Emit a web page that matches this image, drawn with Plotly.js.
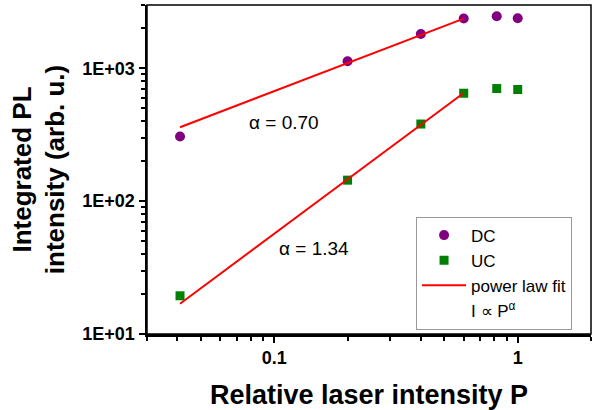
<!DOCTYPE html>
<html>
<head>
<meta charset="utf-8">
<script src="https://cdn.plot.ly/plotly-3.0.1.min.js"></script>
<style>html,body{margin:0;padding:0;background:#fff;}#chart{width:593px;height:410px;}</style>
</head>
<body>
<div id="chart"></div>
<script>
// Relative laser intensity P
var P = [0.041, 0.2, 0.4, 0.6, 0.82, 1.0];
// Integrated PL intensity (arb. u.)
var DC = [307, 1130, 1815, 2371, 2467, 2383];
var UC = [19.4, 144, 381, 650, 705, 693];
// Power-law fit lines (endpoints)
var fitP = [0.041, 0.6];
var dcFit = [360, 2371];
var ucFit = [16.9, 653];
// Tick labels
var xTickVals = [0.1, 1];
var xTickText = ['0.1', '1'];
var yTickVals = [10, 100, 1000];
var yTickText = ['1E+01', '1E+02', '1E+03'];
var xMinor = [0.03,0.04,0.05,0.06,0.07,0.08,0.09,0.2,0.3,0.4,0.5,0.6,0.7,0.8,0.9,2];
var yMinor = [20,30,40,50,60,70,80,90,200,300,400,500,600,700,800,900,2000,3000];
var alphaLabels = ['\u03b1 = 0.70', '\u03b1 = 1.34'];

var FONT = 'Liberation Sans, Arial, sans-serif';

var traces = [
  {x: P, y: DC, name: 'DC', type: 'scatter', mode: 'markers',
   marker: {symbol: 'circle', size: 10, color: '#800080'}},
  {x: P, y: UC, name: 'UC', type: 'scatter', mode: 'markers',
   marker: {symbol: 'square', size: 9, color: '#008000'}},
  {x: fitP, y: dcFit, name: 'power law fit', type: 'scatter', mode: 'lines',
   line: {color: '#ff0000', width: 2}},
  {x: fitP, y: ucFit, name: 'power law fit', type: 'scatter', mode: 'lines',
   line: {color: '#ff0000', width: 2}, showlegend: false},
  {x: [null], y: [null], name: 'I \u221d P<sup>\u03b1</sup>', type: 'scatter', mode: 'lines',
   line: {color: 'rgba(0,0,0,0)', width: 0}}
];

var layout = {
  width: 593, height: 410,
  margin: {l: 147, r: 2, t: 5, b: 76},
  paper_bgcolor: '#fff', plot_bgcolor: '#fff',
  font: {family: FONT, color: '#000'},
  showlegend: true,
  legend: {x: 0.606, y: 0.357, xanchor: 'left', yanchor: 'top',
    bgcolor: '#fff', bordercolor: '#999', borderwidth: 1,
    font: {family: FONT, size: 17, color: '#000'}, itemwidth: 44, tracegroupgap: 0},
  xaxis: {
    type: 'log', range: [Math.log10(0.03), Math.log10(2)],
    tickmode: 'array', tickvals: xTickVals, ticktext: xTickText,
    ticks: 'outside', ticklen: 6, tickwidth: 2, tickcolor: '#000',
    tickfont: {family: FONT, size: 18, color: '#000', weight: 'bold'},
    minor: {tickmode: 'array', tickvals: xMinor, ticks: 'outside', ticklen: 4, tickwidth: 2, tickcolor: '#000', showgrid: false},
    showline: true, linewidth: 2.5, linecolor: '#000',
    showgrid: false, zeroline: false,
    title: {text: 'Relative laser intensity P', font: {family: FONT, size: 27, color: '#000', weight: 'bold'}, standoff: 27},
    automargin: false
  },
  yaxis: {
    type: 'log', range: [1, Math.log10(3000)],
    tickmode: 'array', tickvals: yTickVals, ticktext: yTickText,
    ticks: 'outside', ticklen: 6, tickwidth: 2, tickcolor: '#000',
    tickfont: {family: FONT, size: 18, color: '#000', weight: 'bold'},
    minor: {tickmode: 'array', tickvals: yMinor, ticks: 'outside', ticklen: 4, tickwidth: 2, tickcolor: '#000', showgrid: false},
    showline: true, linewidth: 2.5, linecolor: '#000',
    showgrid: false, zeroline: false,
    title: {text: 'Integrated PL<br>intensity (arb. u.)', font: {family: FONT, size: 26, color: '#000', weight: 'bold'}, standoff: 10},
    automargin: false
  },
  shapes: [
    {type: 'rect', xref: 'paper', yref: 'paper', x0: 0, x1: 1, y0: 0, y1: 1,
     line: {color: '#000', width: 1.5}, fillcolor: 'rgba(0,0,0,0)', layer: 'above'}
  ],
  annotations: [
    {xref: 'paper', yref: 'paper', x: 0.308, y: 0.644, xanchor: 'center', yanchor: 'middle',
     text: alphaLabels[0], showarrow: false, font: {family: FONT, size: 19, color: '#000'}},
    {xref: 'paper', yref: 'paper', x: 0.375, y: 0.261, xanchor: 'center', yanchor: 'middle',
     text: alphaLabels[1], showarrow: false, font: {family: FONT, size: 19, color: '#000'}}
  ]
};

Plotly.newPlot('chart', traces, layout, {displayModeBar: false, staticPlot: true});
</script>
</body>
</html>
